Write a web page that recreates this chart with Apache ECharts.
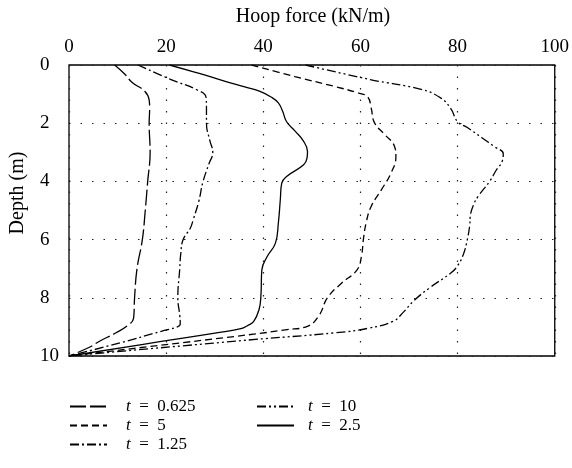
<!DOCTYPE html>
<html>
<head>
<meta charset="utf-8">
<script src="https://cdn.jsdelivr.net/npm/echarts@6/dist/echarts.min.js"></script>
<style>html,body{margin:0;padding:0;background:#fff}#c{width:572px;height:468px}</style>
</head>
<body>
<div id="c"></div>
<script>
// x-axis tick labels (Hoop force, kN/m) and y-axis tick labels (Depth, m)
const forceTicks = [0, 20, 40, 60, 80, 100];
const depthTicks = [0, 2, 4, 6, 8, 10];

// t = 0.625
const depth0625 = [0, 0.3, 0.6, 0.9, 1.2, 1.5, 2, 3, 4, 5, 6, 7, 8, 8.7, 8.95, 9.2, 9.5, 9.7, 10];
const force0625 = [9.4, 11.4, 13.0, 15.6, 16.5, 16.6, 16.5, 16.7, 16.2, 15.7, 15.1, 14.0, 13.5, 13.3, 12.1, 9.7, 6.2, 4.2, 0];
// t = 1.25
const depth125 = [0, 0.5, 0.85, 1.1, 1.5, 2, 2.6, 3, 3.4, 4, 4.7, 5.3, 5.6, 6, 6.5, 7, 8, 8.6, 8.9, 9.0, 9.15, 9.55, 10];
const force125 = [14.2, 21, 26.3, 28.2, 28.3, 28.3, 29.0, 29.6, 28.8, 27.6, 26.7, 25.6, 25.0, 23.5, 23.0, 22.8, 22.4, 22.8, 22.9, 22.3, 19, 10.5, 0];
// t = 2.5
const depth25 = [0, 0.3, 0.55, 0.75, 0.9, 1.1, 1.3, 1.6, 1.95, 2.28, 2.6, 2.97, 3.2, 3.43, 3.83, 4.06, 4.63, 5.43, 6.12, 6.58, 7.04, 7.96, 8.42, 8.82, 8.95, 9.05, 9.2, 9.5, 10];
const force25 = [20.7, 27, 32, 36.2, 39.2, 41.6, 43.1, 44.0, 44.8, 46.6, 48.2, 49.1, 49.0, 48.3, 44.8, 43.8, 43.5, 43.1, 42.5, 40.8, 39.7, 39.5, 39.1, 38.0, 36.8, 35.6, 30.7, 19, 0];
// t = 5
const depth5 = [0, 0.4, 0.75, 0.96, 1.1, 1.47, 1.99, 2.39, 2.79, 3.14, 3.71, 4.29, 4.86, 5.4, 6.0, 6.58, 7.04, 7.5, 8.0, 8.6, 8.97, 9.1, 9.25, 10];
const force5 = [37.6, 46.5, 55, 59.5, 61.5, 62.2, 62.9, 65.0, 67.0, 67.3, 66.3, 64.3, 62.2, 61.2, 60.6, 60.2, 59.3, 56.1, 53.2, 51.5, 49.2, 44.5, 38, 0];
// t = 10
const depth10 = [0, 0.5, 0.84, 1.13, 1.5, 1.95, 2.15, 2.5, 2.8, 3.05, 3.3, 3.6, 4.0, 4.5, 4.8, 5.2, 5.5, 6.0, 6.5, 6.9, 7.15, 7.65, 8.1, 8.5, 8.8, 9.05, 9.2, 9.45, 10];
const force10 = [48.7, 62, 72.5, 76.5, 78.6, 80.0, 82.0, 85, 87.5, 89.4, 89.2, 88, 86.6, 84.3, 83.3, 82.6, 82.5, 82.0, 81.2, 80.0, 78.6, 74.3, 71.0, 68.8, 66.8, 61.5, 55, 37, 0];

const seriesNames = ['0.625', '5', '1.25', '10', '2.5'];
const seriesDepths = [depth0625, depth5, depth125, depth10, depth25];
const seriesForces = [force0625, force5, force125, force10, force25];

const FONT = '"Liberation Serif", "DejaVu Serif", serif';
const dashStyles = {
  '0.625': [16, 4],
  '5': [7, 4],
  '1.25': [9, 3, 2, 3],
  '10': [9, 3, 2, 3, 2, 3],
  '2.5': 'solid'
};

const series = seriesNames.map((n, i) => ({
  name: n,
  type: 'line',
  data: seriesDepths[i].map((d, k) => [seriesForces[i][k], d]),
  showSymbol: false,
  symbol: 'none',
  smooth: 0.45,
  lineStyle: { color: '#000', width: 1.3, type: dashStyles[n] },
  itemStyle: { color: '#000' }
}));

function legendOf(left, gap, names) {
  return {
    orient: 'vertical',
    left: left,
    top: 398,
    padding: 0,
    itemWidth: 37,
    itemHeight: 14,
    itemGap: 2,
    data: names,
    itemStyle: { color: 'transparent', borderColor: 'transparent', borderWidth: 0, opacity: 0 },
    formatter: n => '{p|}{i|t}\u2002=\u2002' + n,
    textStyle: {
      fontFamily: FONT, fontSize: 17, color: '#000', lineHeight: 16,
      rich: {
        p: { width: gap },
        i: { fontStyle: 'italic', fontFamily: FONT, fontSize: 17 }
      }
    }
  };
}

const chart = echarts.init(document.getElementById('c'), null, { renderer: 'canvas' });
chart.setOption({
  animation: false,
  backgroundColor: '#fff',
  grid: { left: 69, right: 14, top: 65, bottom: 112, show: true, borderColor: '#000', borderWidth: 1.3, backgroundColor: 'transparent' },
  xAxis: {
    type: 'value', position: 'top',
    min: forceTicks[0], max: forceTicks[forceTicks.length - 1], interval: forceTicks[1] - forceTicks[0],
    axisLine: { show: false }, axisTick: { show: false },
    axisLabel: { fontFamily: FONT, fontSize: 19, color: '#000', margin: 8 },
    splitLine: { show: true, lineStyle: { type: [1.5, 10], color: '#222', width: 1.2 } }
  },
  yAxis: {
    type: 'value', inverse: true,
    min: depthTicks[0], max: depthTicks[depthTicks.length - 1], interval: depthTicks[1] - depthTicks[0],
    axisLine: { show: false }, axisTick: { show: false },
    axisLabel: { fontFamily: FONT, fontSize: 19, color: '#000', margin: 29, align: 'left' },
    splitLine: { show: true, lineStyle: { type: [1.5, 10], color: '#222', width: 1.2 } }
  },
  legend: [
    legendOf(69, 14, ['0.625', '5', '1.25']),
    legendOf(256, 9, ['10', '2.5'])
  ],
  graphic: [
    { type: 'text', x: 313, y: 17, style: { text: 'Hoop force (kN/m)', font: '20px ' + FONT, fill: '#000', textAlign: 'center', textVerticalAlign: 'middle' } },
    { type: 'text', x: 18, y: 193, rotation: Math.PI / 2, style: { text: 'Depth (m)', font: '20px ' + FONT, fill: '#000', textAlign: 'center', textVerticalAlign: 'middle' } }
  ],
  series: series
});
</script>
</body>
</html>
